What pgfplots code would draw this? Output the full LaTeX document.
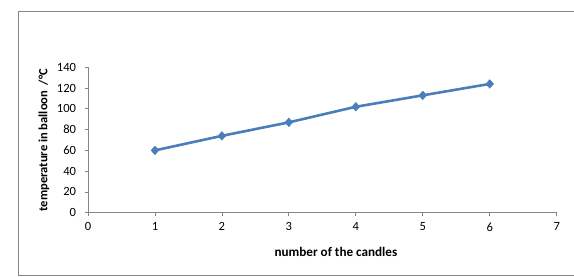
\documentclass[border=0pt]{standalone}
\usepackage{pgfplots}
\pgfplotsset{compat=1.18}
\usepackage{fontspec}
\setmainfont{Carlito}
\definecolor{axgray}{HTML}{868686}
\definecolor{lineblue}{HTML}{4A7EBB}
\begin{document}
\begin{tikzpicture}
\useasboundingbox (0,0) rectangle (574bp,277bp);
\draw[axgray, line width=0.9bp] (18bp,2bp) rectangle (590bp,266bp);
\begin{axis}[
  at={(88bp,64.3bp)}, anchor=south west,
  scale only axis, width=468.7bp, height=145.4bp,
  xmin=0, xmax=7, ymin=0, ymax=140,
  xtick={0,1,...,7}, ytick={0,20,...,140},
  axis x line*=bottom, axis y line*=left,
  axis line style={axgray, line width=0.8bp, -},
  tick style={axgray, line width=0.8bp},
  xtick align=outside, ytick align=outside,
  major tick length=3.5bp,
  tick label style={font=\fontsize{12.6}{14}\selectfont},
  /pgf/number format/assume math mode=true,
  x tick label style={yshift=-3bp},
  y tick label style={xshift=-5bp},
  xlabel={\textbf{number of the candles}},
  ylabel={\textbf{temperature in balloon\ \ /°C}},
  xlabel style={font=\fontsize{13.2}{15}\selectfont, at={(axis description cs:0.529,-0.268)}, anchor=center},
  ylabel style={font=\fontsize{12.6}{15}\selectfont, at={(axis description cs:-0.094,0.5)}, anchor=center},
  clip=false,
]
\addplot[lineblue, line width=2.6bp, mark=diamond*, mark size=4.4bp, mark options={fill=lineblue, draw=lineblue, line width=0.3bp, xscale=1.2}]
 coordinates {(1,60) (2,74) (3,87) (4,102) (5,113) (6,124)};
\end{axis}
\end{tikzpicture}
\end{document}
